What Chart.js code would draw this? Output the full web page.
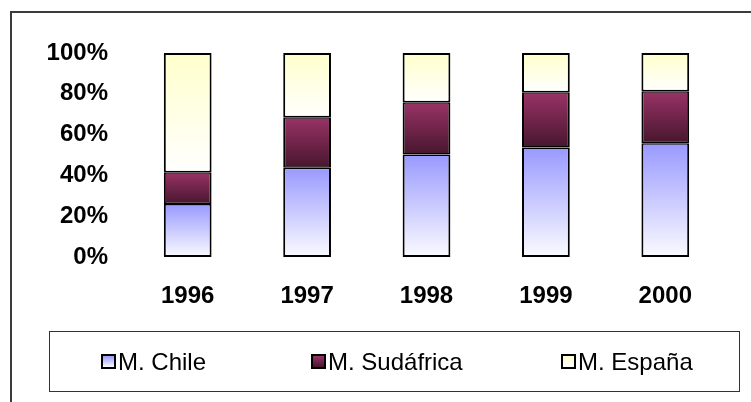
<!DOCTYPE html>
<html>
<head>
<meta charset="utf-8">
<script src="https://cdn.jsdelivr.net/npm/chart.js@4/dist/chart.umd.min.js"></script>
<style>
  html, body { margin: 0; padding: 0; background: #fff; }
  #wrap { position: relative; width: 751px; height: 402px; overflow: hidden; font-family: "Liberation Sans", Arial, sans-serif; }
  #frame { position: absolute; left: 10px; top: 11px; width: 900px; height: 600px; border-top: 2px solid #3a3a3a; border-left: 2px solid #3a3a3a; }
  #cv { position: absolute; left: 0; top: 0; }
  #legend { position: absolute; left: 49px; top: 331px; width: 689px; height: 59px; border: 1px solid #333; box-sizing: content-box; }
  .item { position: absolute; top: 0; height: 59px; display: flex; align-items: center; font-size: 24px; color: #000; white-space: nowrap; }
  .sym { width: 11px; height: 11px; border: 2px solid #000; margin-right: 2px; }
</style>
</head>
<body>
<div id="wrap">
  <div id="frame"></div>
  <canvas id="cv" width="751" height="402"></canvas>
  <div id="legend"></div>
</div>
<script>
const categories = ["1996", "1997", "1998", "1999", "2000"];
const seriesNames = ["M. Chile", "M. Sudáfrica", "M. España"];
const chile = [26.0, 43.8, 50.2, 53.7, 55.7];
const sudafrica = [15.5, 24.7, 25.7, 27.1, 25.6];
const espana = [58.5, 31.5, 24.1, 19.2, 18.7];
const yTicks = [0, 20, 40, 60, 80, 100];

const gradStops = [
  ["#9999ff", "#fbfbff"],
  ["#993366", "#47162e"],
  ["#ffffcc", "#ffffff"]
];
const allSeries = [chile, sudafrica, espana];

function segGradient(ctx) {
  const ds = ctx.datasetIndex;
  const stops = gradStops[ds];
  if (ctx.type !== 'data') return stops[0];
  const chart = ctx.chart;
  const y = chart.scales && chart.scales.y;
  if (!chart.chartArea || !y) return stops[0];
  let start = 0;
  for (let k = 0; k < ds; k++) start += allSeries[k][ctx.dataIndex];
  const end = start + allSeries[ds][ctx.dataIndex];
  const yTop = y.getPixelForValue(end);
  const yBot = y.getPixelForValue(start);
  const g = chart.ctx.createLinearGradient(0, yTop, 0, yBot);
  g.addColorStop(0, stops[0]);
  g.addColorStop(1, stops[1]);
  return g;
}

function segBorder(ctx) {
  const ds = ctx.datasetIndex;
  return {
    left: 2, right: 2,
    top: ds === allSeries.length - 1 ? 2 : 1.5,
    bottom: ds === 0 ? 2 : 1.5
  };
}

const datasets = allSeries.map((arr, i) => ({
  label: seriesNames[i],
  data: arr,
  backgroundColor: segGradient,
  borderColor: "#000",
  borderWidth: segBorder,
  borderSkipped: false,
  barPercentage: 0.8,
  categoryPercentage: 0.5
}));

new Chart(document.getElementById('cv'), {
  type: 'bar',
  data: { labels: categories, datasets },
  options: {
    responsive: false,
    animation: false,
    devicePixelRatio: 1,
    layout: { padding: { top: 53, right: 26, bottom: 95, left: 0 } },
    plugins: { legend: { display: false }, tooltip: { enabled: false } },
    scales: {
      x: {
        stacked: true,
        grid: { display: false, drawTicks: false },
        border: { display: false },
        ticks: { color: '#000', padding: 25, font: { family: 'Liberation Sans', size: 24, weight: 'bold' } },
        afterFit: (s) => { s.height = 50; }
      },
      y: {
        stacked: true,
        min: 0, max: 100,
        afterBuildTicks: (s) => { s.ticks = yTicks.map(v => ({ value: v })); },
        grid: { display: false, drawTicks: false },
        border: { display: false },
        ticks: {
          color: '#000', padding: 20,
          font: { family: 'Liberation Sans', size: 24, weight: 'bold' },
          callback: (v) => v + '%'
        },
        afterFit: (s) => { s.width = 128; }
      }
    }
  }
});

// legend (real text)
const legendX = [51, 261, 511];
const legendEl = document.getElementById('legend');
seriesNames.forEach((name, i) => {
  const it = document.createElement('div');
  it.className = 'item';
  it.style.left = legendX[i] + 'px';
  const sym = document.createElement('div');
  sym.className = 'sym';
  sym.style.background = 'linear-gradient(' + gradStops[i][0] + ',' + gradStops[i][1] + ')';
  const tx = document.createElement('span');
  tx.textContent = name;
  it.appendChild(sym);
  it.appendChild(tx);
  legendEl.appendChild(it);
});
</script>
</body>
</html>
